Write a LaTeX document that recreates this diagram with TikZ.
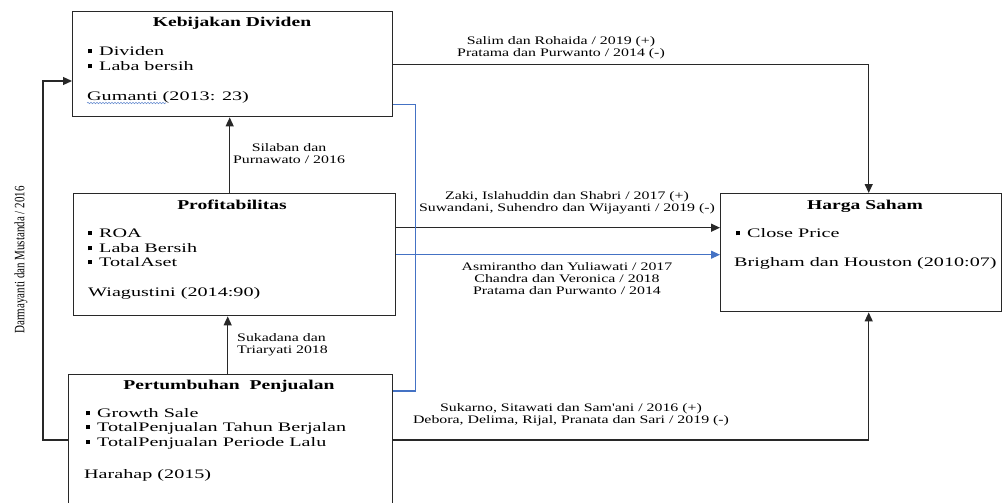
\documentclass[tikz,border=0pt]{standalone}
\usepackage{fontspec}
\setmainfont{Liberation Serif}
\newfontfamily\bxfont[FakeStretch=1.55]{Liberation Serif}
\newfontfamily\ttlfont[FakeStretch=1.45]{Liberation Serif}
\newfontfamily\lbfont[FakeStretch=1.38]{Liberation Serif}
\usetikzlibrary{arrows.meta,decorations.pathmorphing}
\definecolor{lineC}{RGB}{40,40,40}
\definecolor{blueC}{RGB}{68,114,196}
\newcommand\bul{\makebox[11pt][l]{\rule[2pt]{4pt}{4pt}}}
\tikzset{
 box/.style={draw=lineC, line width=1.4pt, rectangle, inner sep=0pt, anchor=north west},
 ttl/.style={font=\ttlfont\bfseries\fontsize{13.5}{15}\selectfont, inner sep=0pt},
 bod/.style={font=\bxfont\fontsize{13}{15}\selectfont, inner sep=0pt, anchor=west},
 lab/.style={font=\lbfont\fontsize{11.5}{12}\selectfont, inner sep=0pt, align=center},
 arr/.style={draw=lineC, line width=1.3pt, -{Triangle[length=9pt,width=8pt]}},
 barr/.style={draw=blueC, line width=1.1pt, -{Triangle[length=9pt,width=8pt]}},
 bline/.style={draw=blueC, line width=1.1pt},
}
\begin{document}
\begin{tikzpicture}[x=1pt,y=-1pt]
\useasboundingbox (0,0) rectangle (1006,503);
\clip (0,0) rectangle (1006,503);
% boxes
\node[box, minimum width=320pt, minimum height=105pt] (kd) at (72,11) {};
\node[box, minimum width=322pt, minimum height=122pt] (pr) at (73,193) {};
\node[box, minimum width=324pt, minimum height=140pt] (pp) at (68,374) {};
\node[box, minimum width=281pt, minimum height=118pt] (hs) at (720,193) {};
% box texts
\node[ttl] (kdT) at (232,23) {Kebijakan Dividen};
\node[bod] (kd1) at (88,51) {\bul Dividen};
\node[bod] (kd2) at (88,66) {\bul Laba bersih};
\node[bod] (kd3) at (87,97) {Gumanti (2013: 23)};
\draw[blueC!80, line width=0.6pt, decorate, decoration={snake,amplitude=0.7pt,segment length=3pt}] (87,103) -- (166,103);
\node[ttl] (prT) at (232,205) {Profitabilitas};
\node[bod] (pr1) at (88,233) {\bul ROA};
\node[bod] (pr2) at (88,248) {\bul Laba Bersih};
\node[bod] (pr3) at (88,262) {\bul TotalAset};
\node[bod] (pr4) at (88,293) {Wiagustini (2014:90)};
\node[ttl] (ppT) at (229,386) {Pertumbuhan~ Penjualan};
\node[bod] (pp1) at (86,413) {\bul Growth Sale};
\node[bod] (pp2) at (86,428) {\bul TotalPenjualan Tahun Berjalan};
\node[bod] (pp3) at (86,443) {\bul TotalPenjualan Periode Lalu};
\node[bod] (pp4) at (84,475) {Harahap (2015)};
\node[ttl] (hsT) at (865,206) {Harga Saham};
\node[bod] (hs1) at (736,233) {\bul Close Price};
\node[bod] (hs2) at (734,263) {Brigham dan Houston (2010:07)};
% connectors
\coordinate (a1) at ([xshift=-5pt]pr.north);
\draw[arr] (a1) -- (a1 |- kd.south);
\coordinate (a2) at ([xshift=-3pt]pp.north);
\draw[arr] (a2) -- (a2 |- pr.south);
\coordinate (hsN) at ([xshift=7.5pt]hs.north);
\draw[arr] (kd.east) -| (hsN);
\coordinate (a3) at ([yshift=27pt]pr.east);
\draw[arr] (a3) -- (a3 -| hs.west);
\draw[barr] (pr.east) -- (pr.east -| hs.west);
\coordinate (b1) at ([yshift=13pt]kd.south east);
\coordinate (b2) at ([yshift=-17pt]pp.north east);
\draw[bline] (b1) -- ++(22,0) |- (b2);
\coordinate (c1) at ([yshift=-66pt]pp.north east);
\coordinate (hsS) at ([xshift=7.5pt]hs.south);
\draw[arr] (c1) -| (hsS);
\coordinate (d1) at ([yshift=-66pt]pp.north west);
\coordinate (d2) at ([yshift=-70pt]kd.north west);
\draw[arr] (d1) -- ++(-25,0) |- (d2);
% labels
\node[lab] (l1) at (561,48) {Salim dan Rohaida / 2019 (+)\\Pratama dan Purwanto / 2014 (-)};
\node[lab] (l2) at (289,154) {Silaban dan\\Purnawato / 2016};
\node[lab, align=left, anchor=west] (l3) at (237,344.5) {Sukadana dan\\Triaryati 2018};
\node[lab] (l4) at (567,203) {Zaki, Islahuddin dan Shabri / 2017 (+)\\Suwandani, Suhendro dan Wijayanti / 2019 (-)};
\node[lab] (l5) at (567,279) {Asmirantho dan Yuliawati / 2017\\Chandra dan Veronica / 2018\\Pratama dan Purwanto / 2014};
\node[lab] (l6) at (571,414.5) {Sukarno, Sitawati dan Sam'ani / 2016 (+)\\Debora, Delima, Rijal, Pranata dan Sari / 2019 (-)};
\node[font=\fontsize{11}{12}\selectfont, inner sep=0pt, rotate=90] (l7) at (21,260) {\scalebox{1}[1.3]{Darmayanti dan Mustanda / 2016}};
\end{tikzpicture}
\end{document}
